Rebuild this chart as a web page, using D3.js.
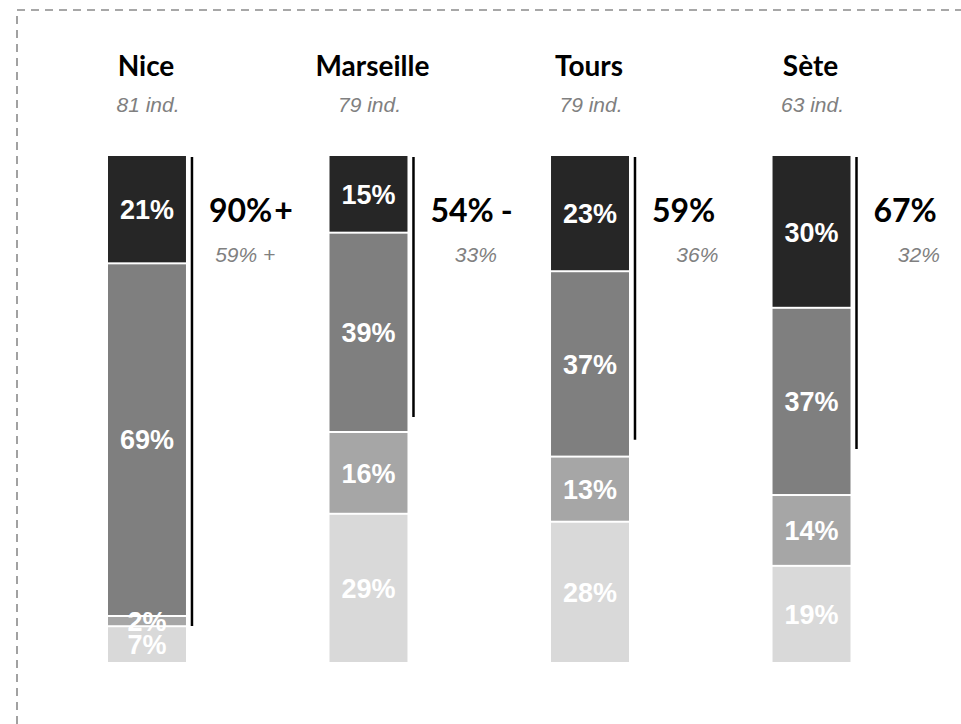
<!DOCTYPE html>
<html>
<head>
<meta charset="utf-8">
<script src="https://cdn.jsdelivr.net/npm/d3@7"></script>
<style>
  html, body { margin: 0; padding: 0; background: #fff; }
  svg { display: block; }
</style>
</head>
<body>
<svg id="chart" width="961" height="724"></svg>
<script>
// Cities surveyed and number of individuals per city
const cities = ["Nice", "Marseille", "Tours", "Sète"];
const sampleSizes = [81, 79, 79, 63];

// Response shares per city, from the darkest band (top) to the lightest (bottom)
const seriesKeys = ["s1", "s2", "s3", "s4"];
const share1 = [21, 15, 23, 30];
const share2 = [69, 39, 37, 37];
const share3 = [2, 16, 13, 14];
const share4 = [7, 29, 28, 19];

// Headline figure beside each bar, with its trend sign
const headline = [90, 54, 59, 67];
const headlineSign = ["+", "-", "", ""];
// Secondary figure beneath the headline
const secondary = [59, 33, 36, 32];
const secondarySign = ["+", "", "", ""];
// How far down the bar the bracket line reaches (share of bar height)
const bracketReach = [0.929, 0.516, 0.561, 0.579];

const seriesColors = ["#262626", "#7f7f7f", "#a6a6a6", "#d9d9d9"];

const rows = cities.map((c, i) => ({
  city: c, n: sampleSizes[i],
  s1: share1[i], s2: share2[i], s3: share3[i], s4: share4[i],
  headline: headline[i], headlineSign: headlineSign[i],
  secondary: secondary[i], secondarySign: secondarySign[i],
  bracket: bracketReach[i]
}));

const svg = d3.select("#chart");

// Dashed frame along the top and left edges
svg.append("path")
  .attr("d", "M17,724V10H961")
  .attr("fill", "none")
  .attr("stroke", "#8a8a8a")
  .attr("stroke-width", 1.6)
  .attr("stroke-dasharray", "8,6");

const x = d3.scaleBand()
  .domain(cities)
  .range([108, 850.5])
  .paddingInner(0.648)
  .paddingOuter(0);

const y = d3.scaleLinear().domain([0, 1]).range([156, 662]);

const stack = d3.stack().keys(seriesKeys).offset(d3.stackOffsetExpand);
const stacked = stack(rows);

const bw = x.bandwidth();

// Stacked bars with a thin white gap between bands
const layers = svg.append("g").selectAll("g")
  .data(stacked)
  .join("g")
  .attr("fill", (d, i) => seriesColors[i]);

layers.selectAll("rect")
  .data(d => d)
  .join("rect")
  .attr("x", d => x(d.data.city))
  .attr("width", bw)
  .attr("y", d => y(d[0]) + (d[0] > 0.0001 ? 1 : 0))
  .attr("height", d => {
    const top = y(d[0]) + (d[0] > 0.0001 ? 1 : 0);
    const bot = y(d[1]) - (d[1] < 0.9999 ? 1 : 0);
    return Math.max(0, bot - top);
  });

// Percentage labels inside each band
const labelLayers = svg.append("g").selectAll("g")
  .data(stacked)
  .join("g");

labelLayers.each(function(layer) {
  d3.select(this).selectAll("text")
    .data(layer)
    .join("text")
    .attr("x", d => x(d.data.city) + bw / 2)
    .attr("y", d => (y(d[0]) + y(d[1])) / 2)
    .attr("dy", "0.36em")
    .attr("text-anchor", "middle")
    .attr("font-family", "'Liberation Sans', Arial, sans-serif")
    .attr("font-weight", "bold")
    .attr("font-size", 27)
    .attr("fill", "#ffffff")
    .text(d => d.data[layer.key] + "%");
});

// City titles and sample sizes
const heads = svg.append("g").selectAll("g")
  .data(rows)
  .join("g");

heads.append("text")
  .attr("x", d => x(d.city) + bw / 2 + (d.city === "Marseille" ? 4 : -1))
  .attr("y", 76)
  .attr("text-anchor", "middle")
  .attr("font-family", "Lato, 'Open Sans', sans-serif")
  .attr("font-weight", 700)
  .attr("font-size", 28)
  .attr("fill", "#000")
  .text(d => d.city);

heads.append("text")
  .attr("x", d => x(d.city) + bw / 2 + 1)
  .attr("y", 112)
  .attr("text-anchor", "middle")
  .attr("font-family", "'Liberation Sans', Arial, sans-serif")
  .attr("font-style", "italic")
  .attr("font-size", 21)
  .attr("fill", "#808080")
  .text(d => d.n + " ind.");

// Bracket lines and headline figures
const side = svg.append("g").selectAll("g")
  .data(rows)
  .join("g");

side.append("line")
  .attr("x1", d => x(d.city) + bw + 6)
  .attr("x2", d => x(d.city) + bw + 6)
  .attr("y1", y(0) + 1)
  .attr("y2", d => y(d.bracket))
  .attr("stroke", "#000")
  .attr("stroke-width", 2.5);

side.each(function(d) {
  const g = d3.select(this);
  const x0 = x(d.city) + bw + 23;
  const num = g.append("text")
    .attr("x", x0)
    .attr("y", 222)
    .attr("font-family", "Lato, 'Open Sans', sans-serif")
    .attr("font-weight", 700)
    .attr("font-size", 32)
    .attr("fill", "#000")
    .text(d.headline + "%");
  const w = num.node().getComputedTextLength();
  if (d.headlineSign) {
    g.append("text")
      .attr("x", x0 + w + (d.headlineSign === "-" ? 7 : 2))
      .attr("y", 222)
      .attr("font-family", "Lato, 'Open Sans', sans-serif")
      .attr("font-weight", 700)
      .attr("font-size", 32)
      .attr("fill", "#000")
      .text(d.headlineSign);
  }
  g.append("text")
    .attr("x", x0 + w + 3)
    .attr("y", 262)
    .attr("text-anchor", "end")
    .attr("font-family", "'Liberation Sans', Arial, sans-serif")
    .attr("font-style", "italic")
    .attr("font-size", 21)
    .attr("fill", "#808080")
    .text(d.secondary + "%" + (d.secondarySign ? " " + d.secondarySign : ""));
});
</script>
</body>
</html>
